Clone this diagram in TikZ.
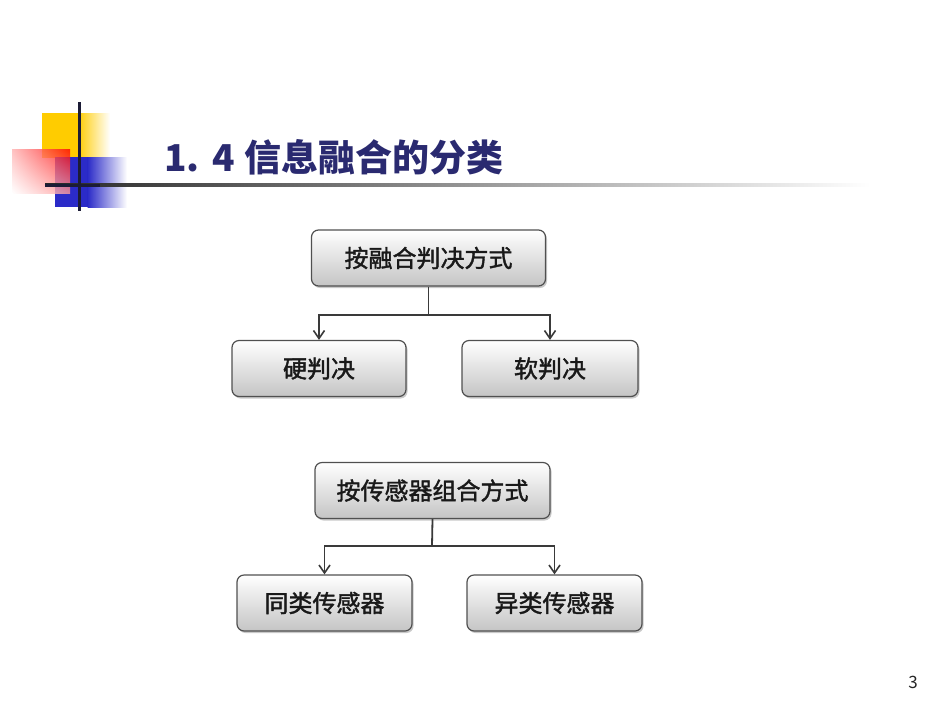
\documentclass[tikz,border=0pt]{standalone}
\usepackage{fontspec}
\newfontfamily\cjk{Noto Sans CJK SC}
\newfontfamily\cjkfb{Noto Sans CJK SC}[FakeBold=1.6]
\usetikzlibrary{arrows.meta,shadows,shadings,positioning}
\definecolor{titleblue}{HTML}{2A2A70}
\definecolor{deco}{HTML}{1C1C36}
\definecolor{boxline}{HTML}{505050}
\definecolor{arrowc}{HTML}{3A3A3A}
\definecolor{decoyellow}{HTML}{FFCC00}
\definecolor{decoblue}{HTML}{2B2BC8}
\tikzset{
  box/.style={rounded corners=7pt, draw=boxline, line width=1.2pt,
    top color=white, bottom color=black!23, minimum height=56pt,
    font=\cjkfb\fontsize{24pt}{27pt}\selectfont, text=black!90,
    drop shadow={shadow xshift=1.5pt, shadow yshift=-2pt, opacity=0.35, fill=black!60}},
  conn/.style={draw=arrowc, line width=1.8pt},
  arr/.style={conn, -{Straight Barb[length=8pt,width=11pt,line width=1.6pt]}}
}
\begin{document}
\begin{tikzpicture}[x=1pt,y=-1pt]
\useasboundingbox (0,0) rectangle (950,713);
\fill[white] (0,0) rectangle (950,713);
% decoration
\fill[decoyellow] (42,113) rectangle (78,158);
\shade[left color=decoyellow, right color=white] (77.5,113) rectangle (110,158);
\fill[decoblue] (55,157) rectangle (88,207);
\shade[left color=decoblue, right color=white] (87.5,157) rectangle (127,207);
\shade[upper right=red, upper left=red!30!white, lower right=red!40!white, lower left=white, opacity=0.8] (12,149) rectangle (70,193);
\shade[left color=black!85, right color=white] (45,183.5) rectangle (870,186.5);
\draw[deco, line width=3pt] (79,102) -- (79,211);
\draw[deco, line width=3pt] (45,185) -- (100,185);
% title
\node[anchor=west, text=titleblue, font=\cjk\bfseries\fontsize{37pt}{40pt}\selectfont, inner sep=0pt] (title) at (164,157) {1.\,\,4\hspace{10pt}信息融合的分类};
% page number
\node[font=\cjk\fontsize{17pt}{20pt}\selectfont, text=black!85] (page) at (913,682) {3};
% tree 1
\node[box, minimum width=234pt] (a) at (428.5,258) {按融合判决方式};
\node[box, minimum width=174pt] (a1) at (319,368.5) {硬判决};
\node[box, minimum width=176pt] (a2) at (550,368.5) {软判决};
\coordinate (am) at (428.5,315);
\draw[conn] (a.south) -- (am);
\draw[arr] (am) -| (a1.north);
\draw[arr] (am) -| (a2.north);
% tree 2
\node[box, minimum width=235pt] (b) at (432.5,490.5) {按传感器组合方式};
\node[box, minimum width=175pt] (b1) at (324.5,603) {同类传感器};
\node[box, minimum width=175pt] (b2) at (554.5,603) {异类传感器};
\coordinate (bm) at (432,546);
\draw[conn] (b.south) -- (bm);
\draw[arr] (bm) -| (b1.north);
\draw[arr] (bm) -| (b2.north);
\end{tikzpicture}
\end{document}
